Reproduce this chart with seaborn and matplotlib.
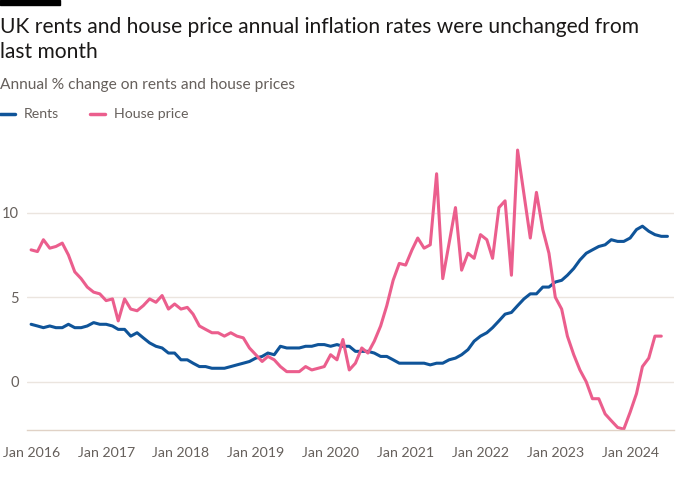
import numpy as np
import pandas as pd
import matplotlib
matplotlib.use("Agg")
import matplotlib.pyplot as plt
import seaborn as sns

# Data (annual % change, monthly)
rent_start = "2016-01-01"
rents = [
    3.4, 3.3, 3.2, 3.3, 3.2, 3.2, 3.4, 3.2, 3.2, 3.3, 3.5, 3.4,   # 2016
    3.4, 3.3, 3.1, 3.1, 2.7, 2.9, 2.6, 2.3, 2.1, 2.0, 1.7, 1.7,   # 2017
    1.3, 1.3, 1.1, 0.9, 0.9, 0.8, 0.8, 0.8, 0.9, 1.0, 1.1, 1.2,   # 2018
    1.4, 1.5, 1.7, 1.6, 2.1, 2.0, 2.0, 2.0, 2.1, 2.1, 2.2, 2.2,   # 2019
    2.1, 2.2, 2.1, 2.1, 1.8, 1.8, 1.8, 1.7, 1.5, 1.5, 1.3, 1.1,   # 2020
    1.1, 1.1, 1.1, 1.1, 1.0, 1.1, 1.1, 1.3, 1.4, 1.6, 1.9, 2.4,   # 2021
    2.7, 2.9, 3.2, 3.6, 4.0, 4.1, 4.5, 4.9, 5.2, 5.2, 5.6, 5.6,   # 2022
    5.9, 6.0, 6.3, 6.7, 7.2, 7.6, 7.8, 8.0, 8.1, 8.4, 8.3, 8.3,   # 2023
    8.5, 9.0, 9.2, 8.9, 8.7, 8.6, 8.6,                            # 2024
]
house_price = [
    7.8, 7.7, 8.4, 7.9, 8.0, 8.2, 7.5, 6.5, 6.1, 5.6, 5.3, 5.2,   # 2016
    4.8, 4.9, 3.6, 4.9, 4.3, 4.2, 4.5, 4.9, 4.7, 5.1, 4.3, 4.6,   # 2017
    4.3, 4.4, 4.0, 3.3, 3.1, 2.9, 2.9, 2.7, 2.9, 2.7, 2.6, 2.0,   # 2018
    1.6, 1.2, 1.5, 1.3, 0.9, 0.6, 0.6, 0.6, 0.9, 0.7, 0.8, 0.9,   # 2019
    1.6, 1.3, 2.5, 0.7, 1.1, 2.0, 1.7, 2.4, 3.3, 4.5, 6.0, 7.0,   # 2020
    6.9, 7.8, 8.5, 7.9, 8.1, 12.3, 6.1, 8.2, 10.3, 6.6, 7.6, 7.3, # 2021
    8.7, 8.4, 7.3, 10.3, 10.7, 6.3, 13.7, 11.1, 8.5, 11.2, 9.0, 7.6,  # 2022
    5.0, 4.3, 2.7, 1.6, 0.7, 0.0, -1.0, -1.0, -1.9, -2.3, -2.7, -2.8, # 2023
    -1.8, -0.7, 0.9, 1.4, 2.7, 2.7,                               # 2024
]
series_names = ["Rents", "House price"]
tick_years = list(range(2016, 2025))

BLUE = "#0f5499"
PINK = "#eb5e8d"
GREY = "#66605c"

rent_dates = pd.date_range(rent_start, periods=len(rents), freq="MS")
hp_dates = pd.date_range(rent_start, periods=len(house_price), freq="MS")
df = pd.concat([
    pd.DataFrame({"date": rent_dates, "value": rents, "series": series_names[0]}),
    pd.DataFrame({"date": hp_dates, "value": house_price, "series": series_names[1]}),
])

sns.set_style("white")
plt.rcParams["font.family"] = ["Lato", "DejaVu Sans"]

fig = plt.figure(figsize=(7, 5), dpi=100)
ax = fig.add_axes([27 / 700, 70 / 500, 647 / 700, 285 / 500])

sns.lineplot(data=df, x="date", y="value", hue="series", palette=[BLUE, PINK],
             linewidth=2.2, legend=False, ax=ax)

ax.set_ylim(-2.85, 14)
ax.set_xlim(pd.Timestamp("2015-12-12"), pd.Timestamp("2024-08-02"))
ax.set_yticks([0, 5, 10])
ax.yaxis.grid(True, color="#ebe5df", linewidth=1)
ax.set_axisbelow(True)
for s in ["top", "right", "left"]:
    ax.spines[s].set_visible(False)
ax.spines["bottom"].set_color("#e0d2c6")
ax.spines["bottom"].set_linewidth(1)

xt = [pd.Timestamp(f"{y}-01-01") for y in tick_years] + [rent_dates[-1]]
ax.set_xticks(xt)
ax.set_xticklabels([f"Jan {y}" for y in tick_years] + [""])
ax.tick_params(axis="x", length=8, width=0.9, colors="#e0d2c6", labelcolor=GREY,
               labelsize=10.2, pad=4)
ax.tick_params(axis="y", length=0, labelcolor=GREY, labelsize=10.5, pad=6)
ax.set_xlabel("")
ax.set_ylabel("")

# header
fig.patches.append(plt.Rectangle((0, 1 - 5 / 500), 60 / 700, 5 / 500,
                                 transform=fig.transFigure, color="black"))
fig.text(0.0, 1 - 33 / 500, "UK rents and house price annual inflation rates were unchanged from",
         fontsize=15.1, color="#1a1817", va="baseline", ha="left")
fig.text(0.0, 1 - 58 / 500, "last month", fontsize=15.1, color="#1a1817",
         va="baseline", ha="left")
fig.text(0.0, 1 - 89 / 500, "Annual % change on rents and house prices",
         fontsize=11.2, color=GREY, va="baseline", ha="left")

# legend
for x0, col, label in [(0, BLUE, series_names[0]), (90, PINK, series_names[1])]:
    fig.lines.append(plt.Line2D([x0 / 700, (x0 + 15) / 700], [1 - 114 / 500] * 2,
                                transform=fig.transFigure, color=col, linewidth=2.5))
    fig.text((x0 + 24) / 700, 1 - 114 / 500, label, fontsize=10.2, color=GREY,
             va="center", ha="left")

fig.savefig("out.png", dpi=100, facecolor="white")
